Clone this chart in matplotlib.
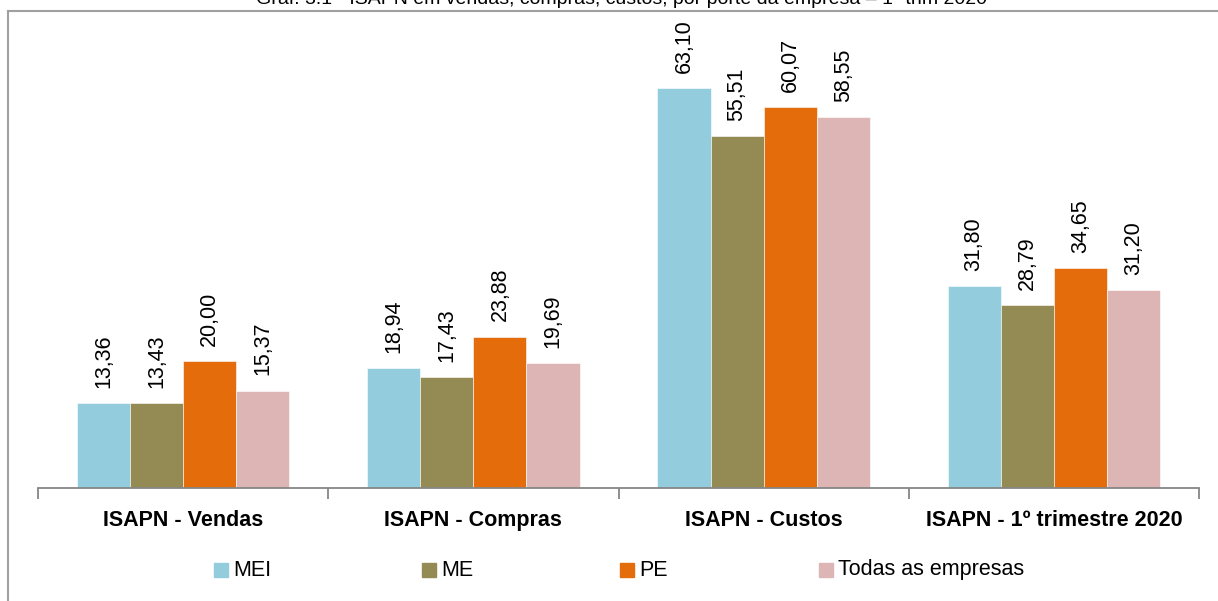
import numpy as np
import matplotlib.pyplot as plt
from matplotlib.patches import Rectangle
from matplotlib.lines import Line2D

plt.rcParams['font.family'] = ['Liberation Sans', 'DejaVu Sans']

# data
categories = ['ISAPN - Vendas', 'ISAPN - Compras', 'ISAPN - Custos', 'ISAPN - 1º trimestre 2020']
series_names = ['MEI', 'ME', 'PE', 'Todas as empresas']
mei = [13.36, 18.94, 63.10, 31.80]
me = [13.43, 17.43, 55.51, 28.79]
pe = [20.00, 23.88, 60.07, 34.65]
todas = [15.37, 19.69, 58.55, 31.20]
title = 'Graf. 3.1 - ISAPN em vendas, compras, custos, por porte da empresa – 1º trim 2020'

colors = ['#93CDDD', '#948A54', '#E46C0A', '#DDB5B5']

W, H = 1218, 601
fig = plt.figure(figsize=(W / 100, H / 100), dpi=100)
ax = fig.add_axes([38 / W, (H - 488) / H, (1199 - 38) / W, 443.8 / H])

x = np.arange(len(categories))
bw = 0.183
for i, (vals, c) in enumerate(zip([mei, me, pe, todas], colors)):
    pos = x + (i - 1.5) * bw
    ax.bar(pos, vals, width=bw, color=c, edgecolor='white', linewidth=0.4)
    for xp, v in zip(pos, vals):
        ax.annotate(f'{v:.2f}'.replace('.', ','), (xp, v), xytext=(0, 11), textcoords='offset points',
                    rotation=90, ha='center', va='bottom', fontsize=15.5)

ax.set_xlim(-0.5, 3.5)
ax.set_ylim(0, 70)
for s in ['top', 'right', 'left']:
    ax.spines[s].set_visible(False)
ax.spines['bottom'].set_color('#868686')
ax.spines['bottom'].set_linewidth(1.3)
ax.set_yticks([])
ax.set_xticks(x)
ax.set_xticklabels(categories, fontsize=15.5, fontweight='bold')
ax.tick_params(axis='x', which='major', length=0, pad=16)
ax.set_xticks(np.arange(-0.5, 4, 1), minor=True)
ax.tick_params(axis='x', which='minor', length=8, width=1.3, color='#868686', direction='out')

# frame lines and title (title cut at the top, as in the source)
fig.add_artist(Line2D([8 / W, 1], [1 - 11 / H, 1 - 11 / H], color='#A0A0A0', lw=1.5))
fig.add_artist(Line2D([8 / W, 8 / W], [0, 1 - 11 / H], color='#A0A0A0', lw=1.5))
fig.text(622 / W, 1 - 4 / H, title, ha='center', va='baseline', fontsize=14)

# legend
leg_x = [214, 422, 620, 819]
for lx, name, c in zip(leg_x, series_names, colors):
    fig.add_artist(Rectangle((lx / W, 1 - 577 / H), 14 / W, 14 / H, color=c))
    fig.text((lx + 19) / W, 1 - 570 / H, name, ha='left', va='center', fontsize=15.5)

fig.savefig('out.png', dpi=100)
